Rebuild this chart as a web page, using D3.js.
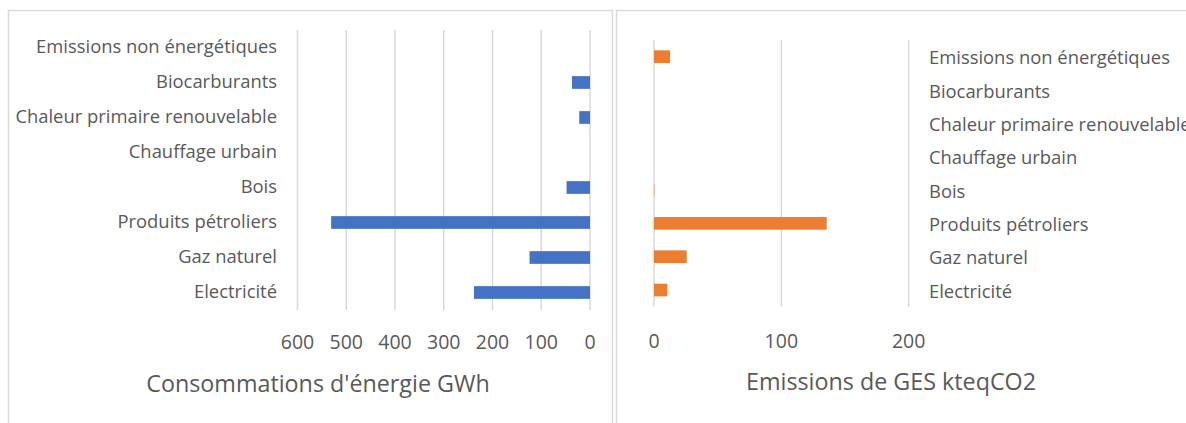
<!DOCTYPE html>
<html><head><meta charset="utf-8">
<script src="https://cdn.jsdelivr.net/npm/d3@7/dist/d3.min.js"></script>
<style>
body{margin:0;background:#fff}
svg text{font-family:"Open Sans", Lato, sans-serif;fill:#595959}
</style></head>
<body><svg id="c" width="1186" height="423"></svg>
<script>
const categories = ["Emissions non énergétiques","Biocarburants","Chaleur primaire renouvelable","Chauffage urbain","Bois","Produits pétroliers","Gaz naturel","Electricité"];
const energyGWh = [0, 37, 22, 0, 48, 531, 124, 238];
const emissionsKt = [12.6, 0, 0, 0, 0.3, 135.6, 25.7, 10.5];
const energyTicks = [0, 100, 200, 300, 400, 500, 600];
const emissionTicks = [0, 100, 200];
const energyTitle = "Consommations d'énergie GWh";
const emissionTitle = "Emissions de GES kteqCO2";

const svg = d3.select("#c");
const grid = "#d9d9d9";

// panel borders
svg.append("rect").attr("x", 8.5).attr("y", 10.5).attr("width", 604).attr("height", 430)
  .attr("fill", "none").attr("stroke", grid).attr("stroke-width", 1.5);
svg.append("rect").attr("x", 616.5).attr("y", 10.5).attr("width", 600).attr("height", 430)
  .attr("fill", "none").attr("stroke", grid).attr("stroke-width", 1.5);

// ---- Left panel: energy (reversed axis)
const xL = d3.scaleLinear().domain([0, 600]).range([590, 297.5]);
const yL = d3.scaleBand().domain(categories).range([30, 310]).paddingInner(0.637).paddingOuter(0.3185);
const gL = svg.append("g");
gL.selectAll("line.grid").data(energyTicks).join("line")
  .attr("x1", d => xL(d)).attr("x2", d => xL(d)).attr("y1", 30).attr("y2", 310)
  .attr("stroke", grid).attr("stroke-width", 1.5);
gL.selectAll("rect.bar").data(categories).join("rect")
  .attr("x", (c, i) => xL(energyGWh[i])).attr("width", (c, i) => xL(0) - xL(energyGWh[i]))
  .attr("y", c => yL(c)).attr("height", yL.bandwidth()).attr("fill", "#4472C4");
gL.selectAll("text.cat").data(categories).join("text")
  .attr("x", 277).attr("y", c => yL(c) + yL.bandwidth() / 2 - 2)
  .attr("text-anchor", "end").attr("dominant-baseline", "central")
  .style("font-size", "18.4px").text(c => c);
gL.selectAll("text.tick").data(energyTicks).join("text")
  .attr("x", d => xL(d)).attr("y", 341).attr("text-anchor", "middle").attr("dominant-baseline", "central")
  .style("font-size", "19.5px").text(d => d);
gL.append("text").attr("x", 318).attr("y", 383).attr("text-anchor", "middle").attr("dominant-baseline", "central")
  .style("font-size", "23.3px").text(energyTitle);

// ---- Right panel: emissions
const xR = d3.scaleLinear().domain([0, 200]).range([654, 908.7]);
const yR = d3.scaleBand().domain(categories).range([40, 306.7]).paddingInner(0.62).paddingOuter(0.31);
const gR = svg.append("g");
gR.selectAll("line.grid").data(emissionTicks).join("line")
  .attr("x1", d => xR(d)).attr("x2", d => xR(d)).attr("y1", 40).attr("y2", 306.7)
  .attr("stroke", grid).attr("stroke-width", 1.5);
gR.selectAll("rect.bar").data(categories).join("rect")
  .attr("x", xR(0)).attr("width", (c, i) => xR(emissionsKt[i]) - xR(0))
  .attr("y", c => yR(c)).attr("height", yR.bandwidth()).attr("fill", "#ED7D31");
gR.selectAll("text.cat").data(categories).join("text")
  .attr("x", 929).attr("y", c => yR(c) + yR.bandwidth() / 2)
  .attr("text-anchor", "start").attr("dominant-baseline", "central")
  .style("font-size", "18.4px").text(c => c);
gR.selectAll("text.tick").data(emissionTicks).join("text")
  .attr("x", d => xR(d)).attr("y", 340).attr("text-anchor", "middle").attr("dominant-baseline", "central")
  .style("font-size", "19.5px").text(d => d);
gR.append("text").attr("x", 891).attr("y", 381).attr("text-anchor", "middle").attr("dominant-baseline", "central")
  .style("font-size", "23.3px").text(emissionTitle);
</script>
</body></html>
